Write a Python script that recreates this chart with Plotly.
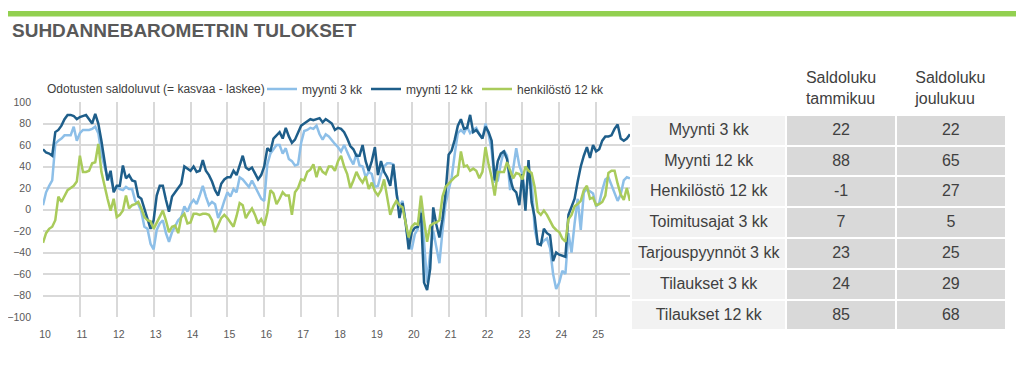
import plotly.graph_objects as go

W, H = 1024, 371
OFF = 8  # page body margin of the browser

# ---------------- data (monthly, Jan 2010 - Dec 2025) ----------------
myynti_3kk = [
    4, 16, 22, 27, 61, 64, 66, 69, 69, 69, 77, 64,
    71, 74, 74, 74, 75, 77, 71, 52, 40, 30, 29, 19,
    21, 19, 18, 21, 19, 19, 8, 5, -2, -16, -18, -32,
    -37, -19, -13, -10, -22, -30, -21, -15, -10, -7, 3, -2,
    5, 9, 5, 13, 22, 12, 4, 7, 5, -8, -1, 8,
    16, 12, 19, 16, 30, 28, 25, 21, 27, 21, 16, 10,
    8, 42, 52, 56, 60, 60, 52, 57, 47, 45, 41, 42,
    62, 73, 74, 76, 75, 78, 70, 65, 70, 68, 64, 61,
    58, 54, 60, 53, 47, 42, 52, 41, 40, 30, 35, 33,
    21, 22, 33, 40, 43, 43, 42, 15, 3, 8, -12, -32,
    -37, -23, -18, 8, -30, -68, -40, -20, -35, -50, -20, 5,
    18, 30, 52, 71, 74, 71, 77, 71, 74, 76, 70, 66,
    80, 70, 55, 26, 27, 43, 55, 50, 18, 36, 57, 41,
    33, 10, 34, 27, -18, -32, -32, -29, -27, -36, -60, -74,
    -68, -57, -60, -22, -40, -13, 10, -19, 16, 19, 17, 15,
    3, 6, 18, 28, 30, 22, 15, 8, 14, 27, 30, 29,
]
myynti_12kk = [
    56, 53, 52, 50, 72, 74, 78, 84, 88, 88, 87, 84,
    86, 87, 88, 84, 80, 89, 80, 64, 43, 27, 36, 16,
    22, 22, 41, 29, 32, 27, 26, 12, 10, 1, -8, -18,
    -10, 13, 22, 22, 9, -2, 12, 16, 20, 24, 40, 38,
    36, 40, 35, 36, 46, 36, 32, 26, 18, 13, 24, 28,
    30, 30, 36, 32, 40, 50, 39, 37, 39, 33, 28, 32,
    40, 57, 54, 66, 69, 72, 66, 76, 68, 62, 65, 72,
    78, 80, 82, 84, 83, 84, 85, 81, 84, 82, 80, 74,
    76, 75, 72, 66, 59, 56, 50, 50, 60, 45, 36, 45,
    58, 32, 45, 35, 30, 22, 42, 17, -8, 6, -12, -37,
    -21, -17, -16, -3, -68, -75, -55, 2, -14, -26, -9, 15,
    51, 55, 65, 78, 84, 75, 76, 88, 72, 74, 70, 66,
    77, 72, 64, 27, 45, 52, 54, 47, 29, 19, 16, 4,
    33, -1, 46, 7, -7, -32, -33, -18, -22, -24, -48, -40,
    -42, -43, -44, -5, 2, 10, 26, 40, 50, 58, 48, 60,
    54, 56, 64, 68, 68, 69, 75, 79, 66, 64, 66, 70,
]
henkilosto_12kk = [
    -31, -22, -18, -16, -10, 12, 7, 12, 18, 20, 22, 26,
    50, 35, 35, 36, 43, 44, 61, 35, 21, 10, -1, 10,
    -7, -5, -1, 13, 1, 4, 5, 7, 1, -7, -10, -11,
    -18, -12, -7, -1, -10, -21, -16, -15, -22, -7, -4, -13,
    -12, -4, -4, -5, -4, -4, -5, -10, -21, -15, -8, -5,
    -8, -12, -16, -6, 6, 4, -8, -3, 1, -5, -13, -9,
    -15, -3, 18, 15, 5, 10, 16, 13, 13, -5, 16, 20,
    28, 27, 35, 37, 42, 30, 40, 35, 33, 40, 40, 36,
    45, 50, 40, 33, 20, 27, 35, 29, 25, 31, 19, 25,
    17, 13, 18, 28, 12, -5, 3, 8, 4, 2, -12, -26,
    -16, -13, -14, 13, -10, -30, -15, -13, -12, -10, 12, 21,
    24, 27, 30, 32, 54, 40, 41, 36, 38, 36, 29, 35,
    58, 42, 30, 13, 35, 35, 35, 44, 36, 29, 34, 33,
    28, 40, 36, 34, 21, -2, -5, -1, -5, -11, -16, -19,
    -21, -27, -30, -9, -5, 3, 5, 8, 18, 22, 10, 11,
    4, 5, 7, 13, 34, 36, 36, 24, 14, 9, 20, 8,
]
months = list(range(len(myynti_3kk)))

year_ticks = list(range(0, 193, 12))
year_labels = ["10", "11", "12", "13", "14", "15", "16", "17", "18", "19",
               "20", "21", "22", "23", "24", "25", ""]

table_labels = ["Myynti 3 kk", "Myynti 12 kk", "Henkilöstö 12 kk", "Toimitusajat 3 kk",
                "Tarjouspyynnöt 3 kk", "Tilaukset 3 kk", "Tilaukset 12 kk"]
saldo_tammikuu = [22, 88, -1, 7, 23, 24, 85]
saldo_joulukuu = [22, 65, 27, 5, 25, 29, 68]

# ---------------- styles ----------------
C_L = "#8DBFE8"
C_D = "#1E5E8A"
C_G = "#A9CB5B"
TXT = "#595959"
FONT = "Liberation Sans, Arial, sans-serif"

def px_x(v):
    return (v - OFF) / W

def px_y(v):
    return (H - (v - OFF)) / H

fig = go.Figure()
series = [("myynti 3 kk", myynti_3kk, C_L, "legend", 262),
          ("myynti 12 kk", myynti_12kk, C_D, "legend2", 366),
          ("henkilöstö 12 kk", henkilosto_12kk, C_G, "legend3", 477)]
for name, ys, col, leg, _ in series:
    fig.add_trace(go.Scatter(x=months, y=ys, mode="lines", name=name, legend=leg,
                             line=dict(color=col, width=2.5), hoverinfo="skip"))

# keep labels on one line inside the table cells
cell_labels = [s.replace(" ", "\u00a0") for s in table_labels]

fig.add_trace(go.Table(
    domain=dict(x=[px_x(631), px_x(1006)], y=[0, px_y(61)]),
    columnwidth=[155, 109, 110],
    header=dict(values=["", "Saldoluku<br>tammikuu", "Saldoluku<br>joulukuu"],
                fill_color="white", line=dict(color="white", width=2),
                font=dict(family=FONT, size=16, color="#404040"),
                align="center", height=50),
    cells=dict(values=[cell_labels, saldo_tammikuu, saldo_joulukuu],
               fill_color=[["#F2F2F2"] * 7, ["#D9D9D9"] * 7, ["#D9D9D9"] * 7],
               line=dict(color="white", width=2),
               font=dict(family=FONT, size=16, color="#404040"),
               align="center", height=30.8),
))

legend_style = dict(orientation="h", xanchor="left", y=px_y(89), yanchor="middle",
                    font=dict(family=FONT, size=12, color="#404040"),
                    bgcolor="rgba(0,0,0,0)", itemwidth=30)
legends = {leg: dict(legend_style, x=px_x(lx)) for _, _, _, leg, lx in series}

fig.update_layout(
    width=W, height=H,
    margin=dict(l=0, r=0, t=0, b=0, autoexpand=False),
    paper_bgcolor="white", plot_bgcolor="white",
    showlegend=True,
    **legends,
    xaxis=dict(domain=[px_x(43), px_x(633)], range=[0, 192], automargin=False,
               tickmode="array", tickvals=year_ticks, ticktext=year_labels,
               showgrid=True, gridcolor="#D9D9D9", gridwidth=1.5,
               zeroline=False, showline=False, ticks="",
               tickfont=dict(family=FONT, size=10.5, color=TXT),
               ticklabelshift=2, ticklabelstandoff=9),
    yaxis=dict(domain=[px_y(317), px_y(102)], range=[-100, 100], automargin=False,
               tickmode="array", tickvals=list(range(-100, 101, 20)),
               showgrid=True, gridcolor="#D9D9D9", gridwidth=1.5,
               zeroline=False, showline=False, ticks="",
               tickfont=dict(family=FONT, size=10.5, color=TXT),
               ticklabelstandoff=11),
    shapes=[dict(type="rect", xref="paper", yref="paper",
                 x0=px_x(7), x1=px_x(1024), y0=px_y(16.5), y1=px_y(11),
                 fillcolor="#92D050", line=dict(width=0))],
    annotations=[
        dict(text="<b>SUHDANNEBAROMETRIN TULOKSET</b>", xref="paper", yref="paper",
             x=px_x(10), y=px_y(31), xanchor="left", yanchor="middle",
             showarrow=False, font=dict(family=FONT, size=19, color=TXT)),
        dict(text="Odotusten saldoluvut (= kasvaa - laskee)", xref="paper", yref="paper",
             x=px_x(45), y=px_y(89), xanchor="left", yanchor="middle",
             showarrow=False, font=dict(family=FONT, size=12, color="#404040")),
    ],
)

fig.write_html("out.html")
